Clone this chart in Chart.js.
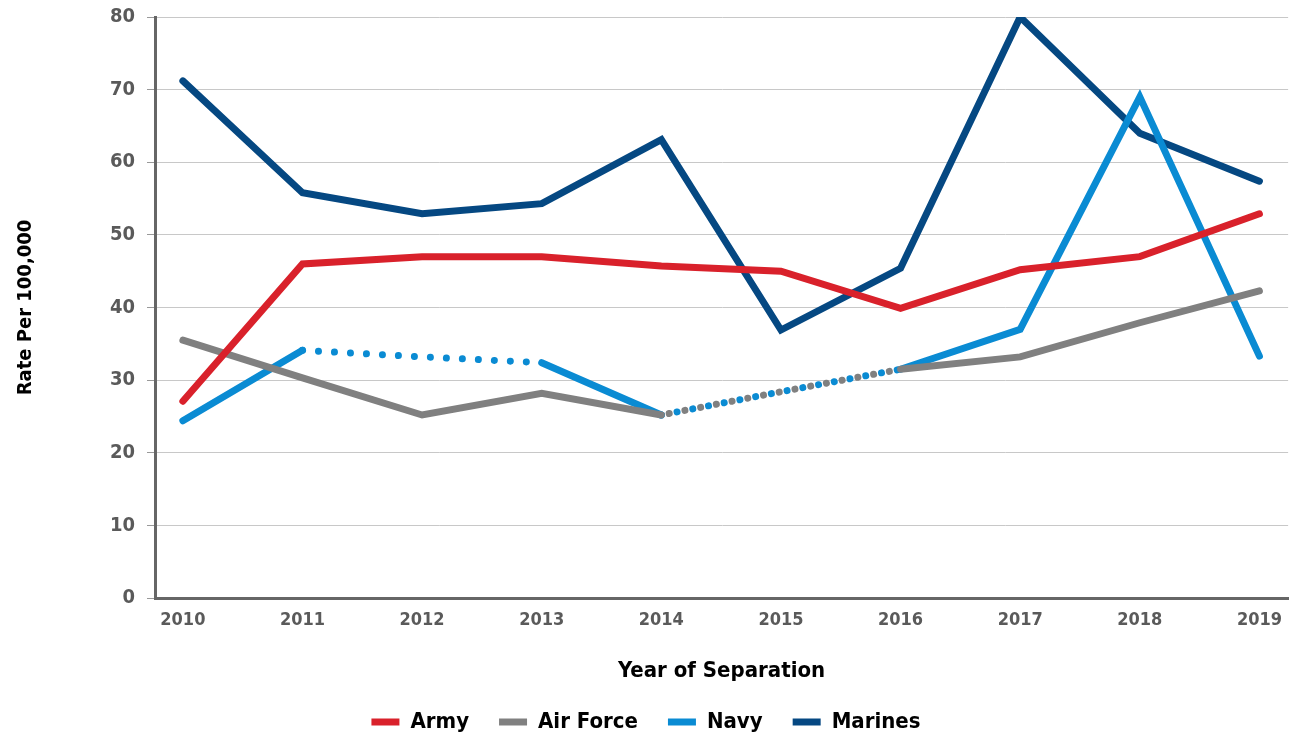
<!DOCTYPE html>
<html>
<head>
<meta charset="utf-8">
<script src="https://cdn.jsdelivr.net/npm/chart.js@4.4.1/dist/chart.umd.min.js"></script>
<style>
  html, body { margin: 0; padding: 0; background: #fff; }
  #wrap { width: 1294px; height: 738px; }
</style>
</head>
<body>
<div id="wrap"><canvas id="grafico"></canvas></div>
<script>
// Dados
const anos = [2010, 2011, 2012, 2013, 2014, 2015, 2016, 2017, 2018, 2019];
const army = [27.1, 46.0, 47.0, 47.0, 45.7, 45.0, 39.9, 45.2, 47.0, 52.9];
const airForce = [35.5, 30.3, 25.2, 28.2, 25.2, 28.4, 31.5, 33.2, 37.9, 42.3];
const navy = [24.4, 34.1, 33.2, 32.4, 25.2, 28.4, 31.5, 37.0, 69.0, 33.3];
const marines = [71.2, 55.8, 52.9, 54.3, 63.1, 36.9, 45.4, 80.0, 64.0, 57.4];
const yTicks = [0, 10, 20, 30, 40, 50, 60, 70, 80];

// trechos pontilhados (índice do ponto inicial)
const navyPontilhado = [1, 2, 4, 5];
const airPontilhado = [4, 5];

const fonte = "'Liberation Sans Narrow', 'DejaVu Sans Condensed', 'Roboto Condensed', sans-serif";
const pontos = [0.01, 16];

function serie(label, data, cor, pontilhado, offset) {
    return {
        label: label,
        data: data,
        borderColor: cor,
        backgroundColor: cor,
        borderWidth: 7,
        borderCapStyle: 'round',
        borderJoinStyle: 'miter',
        pointRadius: 0,
        tension: 0,
        segment: {
            borderDash: ctx => pontilhado.includes(ctx.p0DataIndex) ? pontos : undefined,
            borderDashOffset: ctx => pontilhado.includes(ctx.p0DataIndex) ? offset : undefined
        }
    };
}

const ctx = document.getElementById('grafico').getContext('2d');
new Chart(ctx, {
    type: 'line',
    data: {
        labels: anos,
        datasets: [
            serie('Army', army, '#d9212b', [], 0),
            serie('Air Force', airForce, '#808080', airPontilhado, 8),
            serie('Navy', navy, '#0a8bd3', navyPontilhado, 0),
            serie('Marines', marines, '#054882', [], 0)
        ]
    },
    options: {
        responsive: true,
        maintainAspectRatio: false,
        animation: false,
        layout: { padding: { top: 17, right: 2, left: 0, bottom: -5 } },
        plugins: {
            tooltip: { enabled: false },
            legend: {
                position: 'bottom',
                labels: {
                    usePointStyle: true,
                    pointStyle: 'line',
                    pointStyleWidth: 28,
                    color: '#000',
                    padding: 30,
                    font: { family: fonte, size: 22, weight: 'bold' }
                }
            }
        },
        scales: {
            x: {
                type: 'linear',
                min: 2009.767,
                max: 2019.24,
                afterBuildTicks: scale => { scale.ticks = anos.map(v => ({ value: v })); },
                afterFit: scale => { scale.height = 83; },
                grid: { display: false, drawTicks: false },
                border: { display: true, color: '#666', width: 3 },
                ticks: {
                    padding: 12,
                    color: '#5a5a5a',
                    font: { family: fonte, size: 18, weight: 'bold' },
                    callback: v => String(v),
                    maxRotation: 0,
                    autoSkip: false
                },
                title: {
                    display: true,
                    text: 'Year of Separation',
                    color: '#000',
                    padding: { top: 10, bottom: -3 },
                    font: { family: fonte, size: 22, weight: 'bold' }
                }
            },
            y: {
                min: 0,
                max: 80,
                afterBuildTicks: scale => { scale.ticks = yTicks.map(v => ({ value: v })); },
                afterFit: scale => {
                    scale.width = 155;
                    scale.paddingTop = 0;
                    scale.paddingBottom = 0;
                },
                grid: { color: '#c8c8c8', lineWidth: 1, tickLength: 8, tickColor: '#999' },
                border: { display: true, color: '#666', width: 3 },
                ticks: {
                    padding: 12,
                    color: '#5a5a5a',
                    font: { family: fonte, size: 20, weight: 'bold' }
                },
                title: {
                    display: true,
                    text: 'Rate Per 100,000',
                    color: '#000',
                    padding: { top: 14, bottom: 0 },
                    font: { family: fonte, size: 20, weight: 'bold' }
                }
            }
        }
    }
});
</script>
</body>
</html>
